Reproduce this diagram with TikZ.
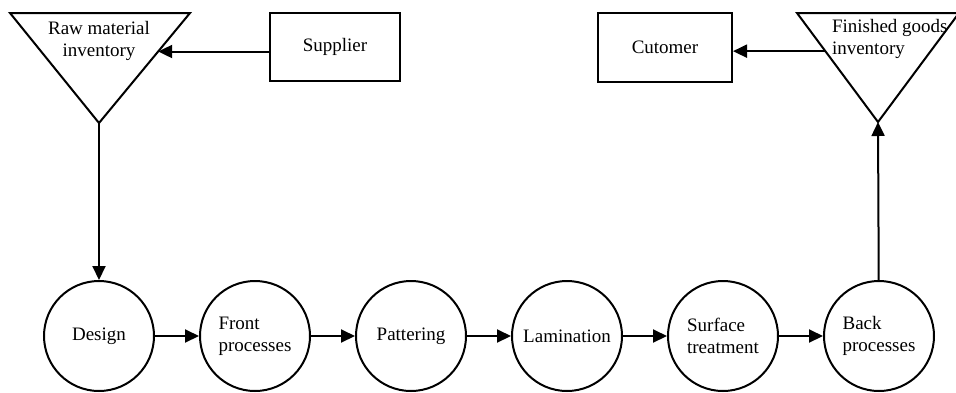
\documentclass[tikz,border=0pt]{standalone}
\usepackage{fontspec}
\setmainfont{Liberation Serif}
\usetikzlibrary{positioning,arrows.meta,calc}

\begin{document}
\begin{tikzpicture}[x=1pt, y=-1pt, node distance=44pt, line width=2pt,
  >={Triangle[length=14pt,width=13pt]},
  every node/.style={font=\fontsize{19}{22}\selectfont},
  proc/.style={circle, draw, minimum size=110pt, inner sep=0pt, align=left},
  party/.style={rectangle, draw, minimum width=130pt, minimum height=68pt}]
  \useasboundingbox (0,0) rectangle (956,392);
  % inventories
  \draw (10,13) coordinate (rawL) -- (190,13) coordinate (rawR)
    -- (99,123) coordinate (rawtip) -- cycle;
  \node[align=center] (rawinv) at (99,41) {Raw material\\inventory};
  \draw (797,13) coordinate (finL) -- (959,13) coordinate (finR)
    -- (878,122) coordinate (fintip) -- cycle;
  \node[align=left, anchor=west, inner sep=0pt] (fininv) at (831,39) {Finished goods\\inventory};
  \coordinate (rawin) at ($(rawR)!0.35!(rawtip)$);
  \coordinate (finin) at ($(finL)!0.35!(fintip)$);
  % supplier and customer
  \node[party] (supplier) at (335,47) {Supplier};
  \node[party, minimum width=134pt, minimum height=69pt] (customer) at (665,47.5) {Cutomer};
  % process chain
  \node[proc] (design) at (99,336) {Design};
  \node[proc, right=of design] (front) {Front\\processes};
  \node[proc, right=of front] (pattern) {Pattering};
  \node[proc, right=of pattern] (lamin) {Lamination};
  \node[proc, right=of lamin] (surface) {Surface\\treatment};
  \node[proc, right=of surface] (back) {Back\\processes};
  \draw[->] (rawin -| supplier.west) -- (rawin);
  \draw[->] (finin) -- (finin -| customer.east);
  \draw[->] (rawtip) -- (design);
  \draw[->] (back) -- (fintip);
  \foreach \a/\b in {design/front, front/pattern, pattern/lamin, lamin/surface, surface/back}
    \draw[->] (\a) -- (\b);
\end{tikzpicture}
\end{document}
